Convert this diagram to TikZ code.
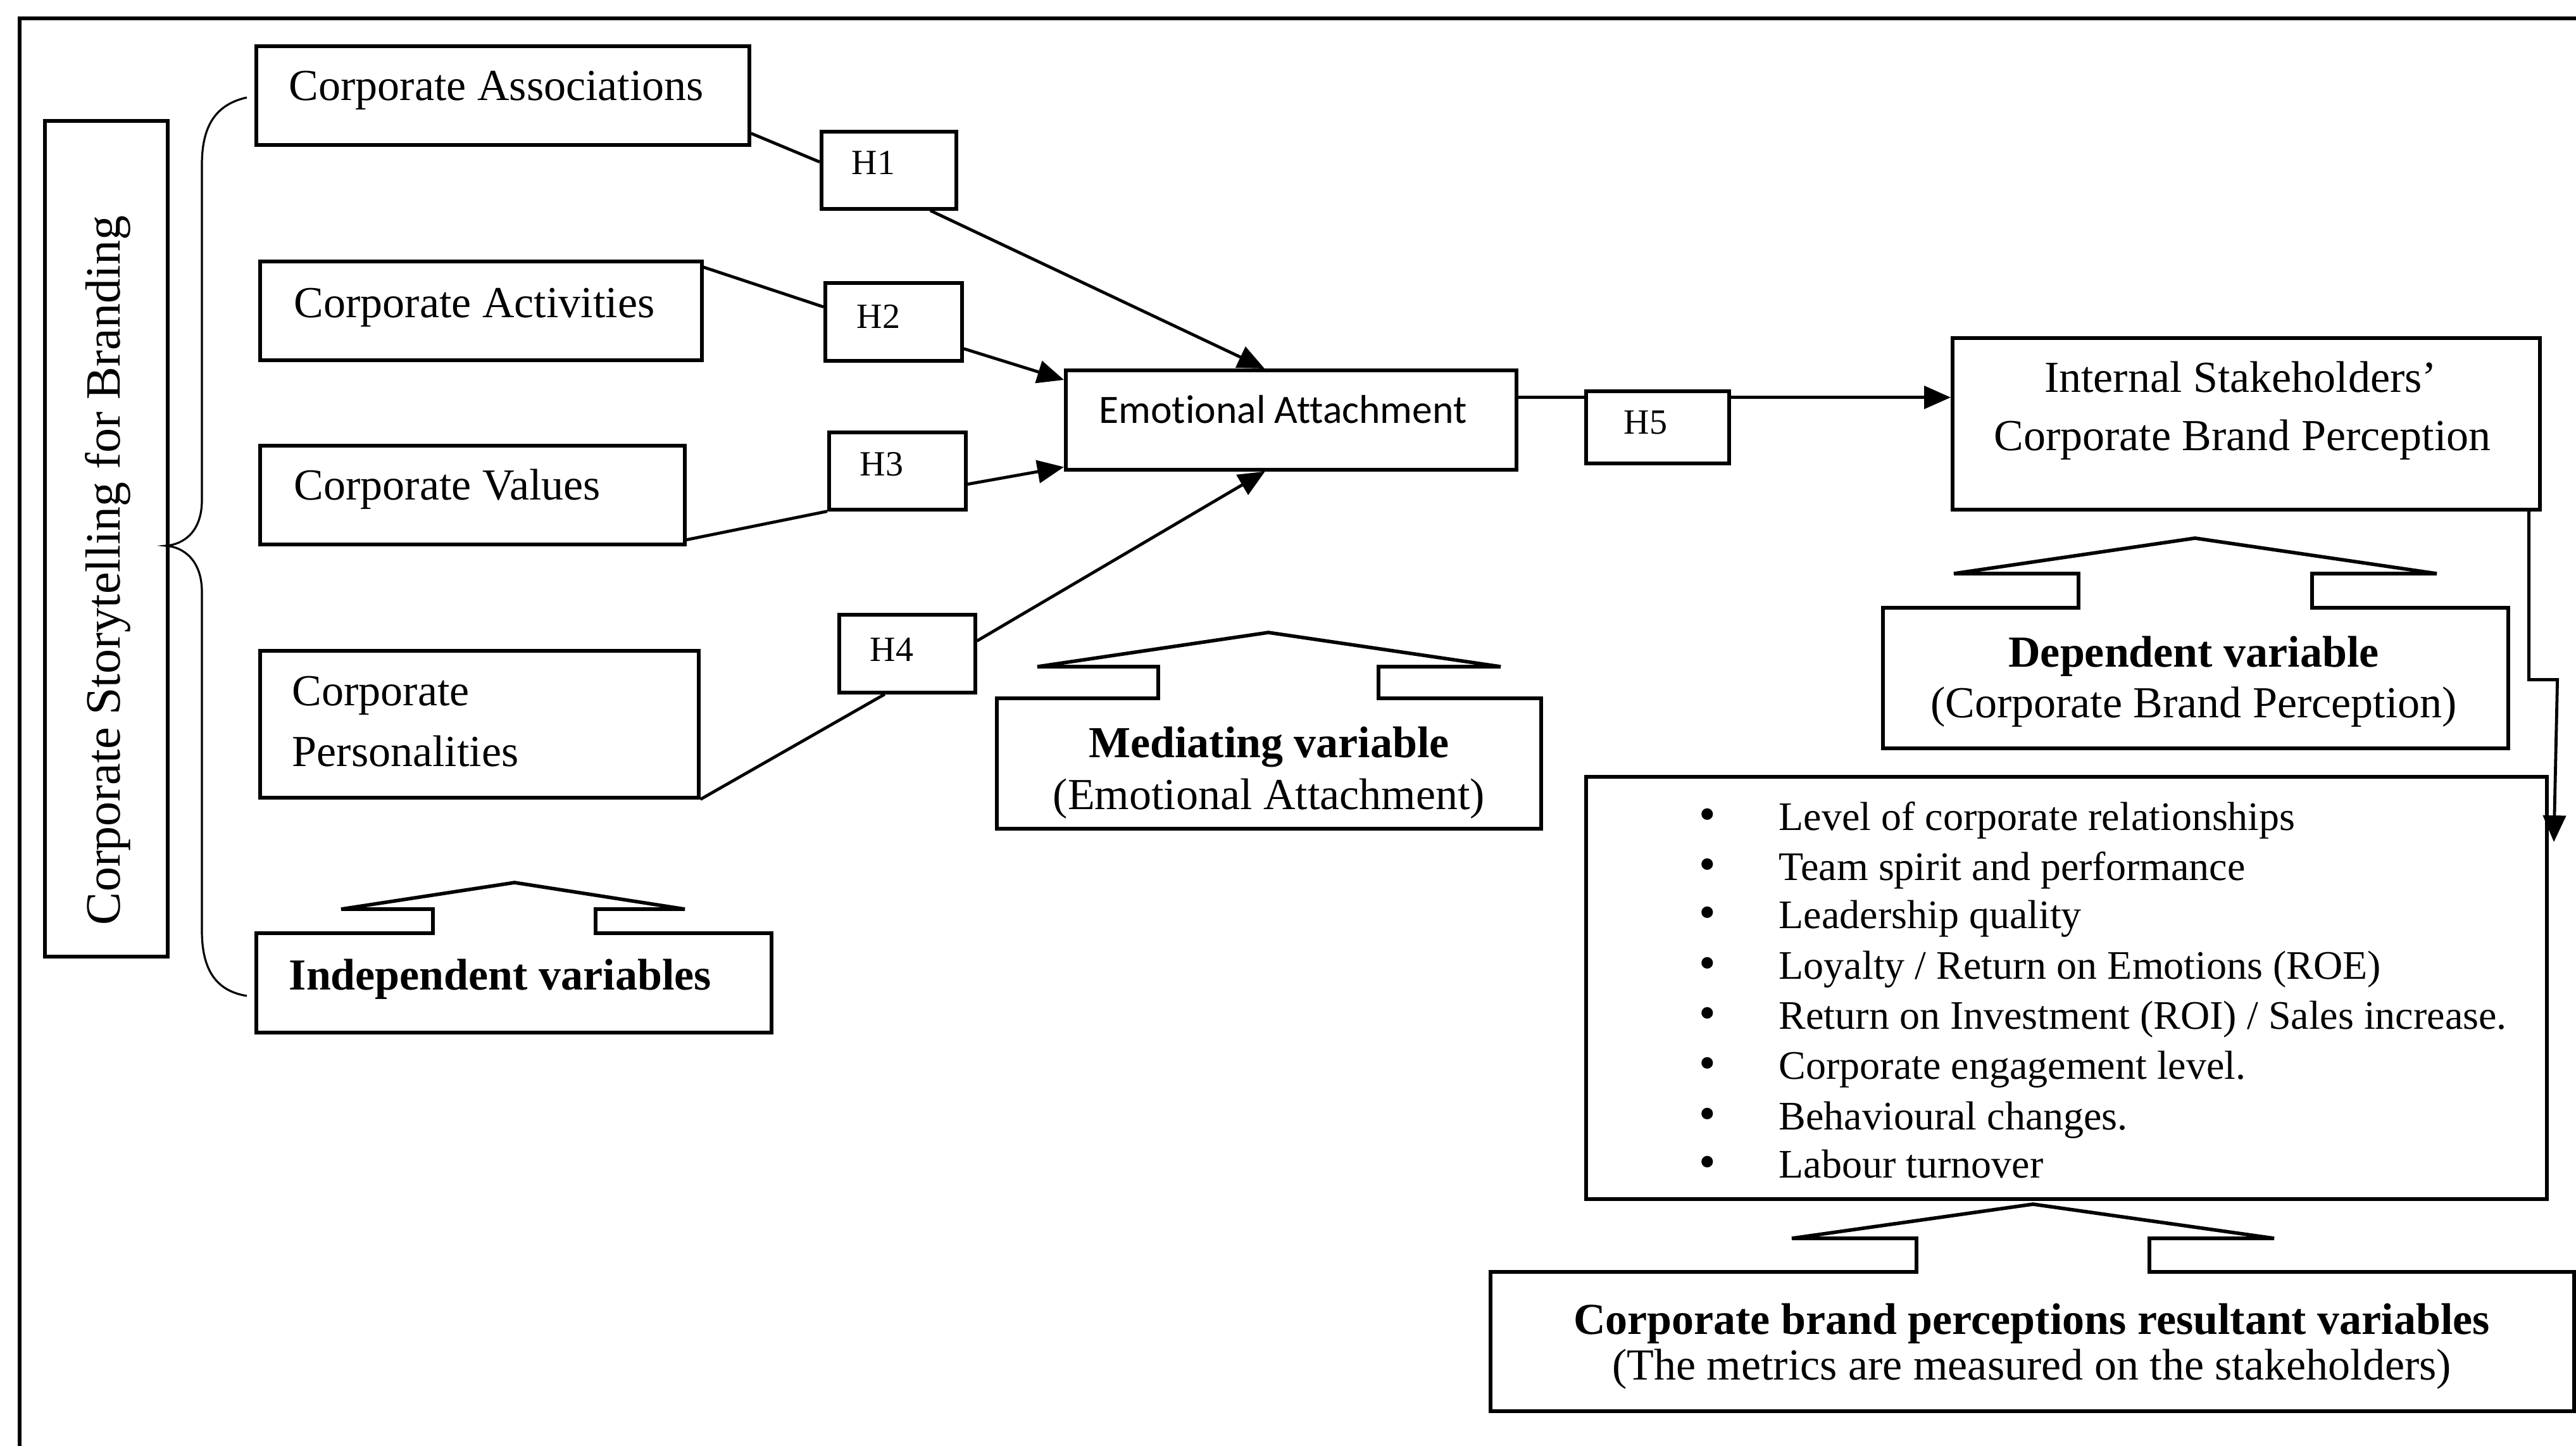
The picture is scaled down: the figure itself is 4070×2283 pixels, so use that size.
\documentclass[tikz,border=0pt]{standalone}
\usepackage{fontspec}
\setmainfont{Liberation Serif}
\newfontfamily\calfont[Ligatures=NoCommon]{Carlito}
\usetikzlibrary{arrows.meta,calc}
\tikzset{
 bx/.style={draw, line width=1.4pt, anchor=north west, inner sep=0pt},
 conn/.style={line width=1.2pt},
 arr/.style={line width=1.2pt, -{Triangle[length=10.5pt,width=9pt]}},
 co/.style={draw, line width=1.4pt, line join=miter},
 t18/.style={font=\fontsize{17.5}{21}\selectfont, inner sep=0pt},
 t18b/.style={font=\fontsize{17.5}{21}\selectfont\bfseries, inner sep=0pt},
 t16/.style={font=\fontsize{16}{19}\selectfont, inner sep=0pt},
 bul/.style={font=\fontsize{19}{21}\selectfont, inner sep=0pt, anchor=base},
 itm/.style={t16, anchor=base west},
 th/.style={font=\fontsize{14}{17}\selectfont, inner sep=0pt, anchor=base west},
}
\begin{document}
\begin{tikzpicture}[x=0.25pt,y=-0.25pt]
\useasboundingbox (0,0) rectangle (4070,2283);
\clip (0,0) rectangle (4070,2283);
\fill[white] (0,0) rectangle (4070,2283);
% outer frame
\draw[line width=1.3pt] (31,29) rectangle (4200,2400);

% vertical title box
\node[bx, minimum width=48.5pt, minimum height=330pt] (cs) at (68,188) {};
\node[t18, rotate=90, font=\fontsize{19.5}{23}\selectfont] (tcs) at (170,901) {Corporate Storytelling for Branding};

% brace
\draw[line width=0.8pt] (390,154) .. controls (340,165) and (319,200) .. (319,260) -- (319,790)
  .. controls (319,840) and (290,860) .. (262,862)
  .. controls (290,864) and (319,885) .. (319,935) -- (319,1470)
  .. controls (319,1530) and (340,1565) .. (390,1573);

% independent variable boxes
\node[bx, minimum width=194.75pt, minimum height=39pt] (ca) at (402,70) {};
\node[t18, anchor=base west] (tca) at (456,158) {Corporate Associations};
\node[bx, minimum width=174.5pt, minimum height=39pt] (cact) at (408,410) {};
\node[t18, anchor=base west] (tcact) at (464,501) {Corporate Activities};
\node[bx, minimum width=167.75pt, minimum height=39pt] (cv) at (408,701) {};
\node[t18, anchor=base west] (tcv) at (464,789) {Corporate Values};
\node[bx, minimum width=173.25pt, minimum height=58pt] (cp) at (408,1025) {};
\node[t18, anchor=base west] (tcp1) at (461,1114) {Corporate};
\node[t18, anchor=base west] (tcp2) at (461,1210) {Personalities};

% hypothesis boxes
\node[bx, minimum width=53.25pt, minimum height=30.5pt] (h1) at (1295,205) {};
\node[th] (th1) at (1345,275) {H1};
\node[bx, minimum width=54pt, minimum height=30.75pt] (h2) at (1301,444) {};
\node[th] (th2) at (1353,518) {H2};
\node[bx, minimum width=54pt, minimum height=30.5pt] (h3) at (1307,680) {};
\node[th] (th3) at (1358,751) {H3};
\node[bx, minimum width=53.75pt, minimum height=30.75pt] (h4) at (1323,968) {};
\node[th] (th4) at (1374,1044) {H4};
\node[bx, minimum width=56.5pt, minimum height=28.5pt] (h5) at (2503,615) {};
\node[th] (th5) at (2565,685) {H5};

% emotional attachment
\node[bx, minimum width=178pt, minimum height=39.25pt] (ea) at (1681,582) {};
\node[inner sep=0pt, anchor=base, font=\calfont\fontsize{15.9}{19}\selectfont] (tea) at (2027,668) {Emotional Attachment};

% internal stakeholders
\node[bx, minimum width=232pt, minimum height=67.75pt] (is) at (3082,531) {};
\node[t18, anchor=base] (tis1) at (3540,619) {Internal Stakeholders’};
\node[t18, anchor=base] (tis2) at (3543,711) {Corporate Brand Perception};

% metrics box
\node[bx, minimum width=379.5pt, minimum height=166.75pt] (mt) at (2503,1224) {};
\node[bul] (mb1) at (2698,1311) {•};
\node[itm] (ml1) at (2810,1311) {Level of corporate relationships};
\node[bul] (mb2) at (2698,1390) {•};
\node[itm] (ml2) at (2810,1390) {Team spirit and performance};
\node[bul] (mb3) at (2698,1466) {•};
\node[itm] (ml3) at (2810,1466) {Leadership quality};
\node[bul] (mb4) at (2698,1546) {•};
\node[itm] (ml4) at (2810,1546) {Loyalty / Return on Emotions (ROE)};
\node[bul] (mb5) at (2698,1625) {•};
\node[itm] (ml5) at (2810,1625) {Return on Investment (ROI) / Sales increase.};
\node[bul] (mb6) at (2698,1704) {•};
\node[itm] (ml6) at (2810,1704) {Corporate engagement level.};
\node[bul] (mb7) at (2698,1784) {•};
\node[itm] (ml7) at (2810,1784) {Behavioural changes.};
\node[bul] (mb8) at (2698,1860) {•};
\node[itm] (ml8) at (2810,1860) {Labour turnover};

% callouts
\draw[co] (405,1474) -- (684,1474) -- (684,1436) -- (539,1436) -- (813,1394) -- (1082,1436) -- (941,1436) -- (941,1474) -- (1219,1474) -- (1219,1631) -- (405,1631) -- cycle;
\node[t18b, anchor=base west] (tind) at (456,1563) {Independent variables};

\draw[co] (1575,1103) -- (1830,1103) -- (1830,1053) -- (1639,1053) -- (2004,999) -- (2371,1053) -- (2178,1053) -- (2178,1103) -- (2435,1103) -- (2435,1309) -- (1575,1309) -- cycle;
\node[t18b, anchor=base] (tmed1) at (2005,1196) {Mediating variable};
\node[t18, anchor=base] (tmed2) at (2005,1278) {(Emotional Attachment)};

\draw[co] (2975,960) -- (3284,960) -- (3284,906) -- (3087,906) -- (3468,850) -- (3850,906) -- (3653,906) -- (3653,960) -- (3963,960) -- (3963,1182) -- (2975,1182) -- cycle;
\node[t18b, anchor=base] (tdep1) at (3466,1053) {Dependent variable};
\node[t18, anchor=base] (tdep2) at (3466,1133) {(Corporate Brand Perception)};

\draw[co] (2355,2009) -- (3028,2009) -- (3028,1956) -- (2831,1956) -- (3212,1902) -- (3593,1956) -- (3396,1956) -- (3396,2009) -- (4067,2009) -- (4067,2229) -- (2355,2229) -- cycle;
\node[t18b, anchor=base] (tres1) at (3210,2107) {Corporate brand perceptions resultant variables};
\node[t18, anchor=base] (tres2) at (3210,2179) {(The metrics are measured on the stakeholders)};

% connectors
\draw[conn] ([yshift=5.25pt]ca.south east) -- ([yshift=3.25pt]h1.west);
\draw[arr] ([xshift=16.4pt]h1.south) -- ([xshift=-10.5pt]ea.north);
\draw[conn] ([yshift=-3pt]cact.north east) -- ([yshift=5.9pt]h2.west);
\draw[arr] ([yshift=-10.6pt]h2.east) -- ([yshift=-4.5pt]ea.north west);
\draw[conn] ([yshift=2.5pt]cv.south east) -- (h3.south west);
\draw[arr] ([yshift=-5.25pt]h3.east) -- ([yshift=1.75pt]ea.south west);
\draw[conn] (cp.south east) -- ([xshift=-8.9pt]h4.south);
\draw[arr] ([yshift=5pt]h4.east) -- ([xshift=-10.25pt]ea.south);
\coordinate (lvl) at ([yshift=8.9pt]ea.east);
\draw[conn] (lvl) -- (lvl -| h5.west);
\draw[arr] (lvl -| h5.east) -- (lvl -| is.west);
\coordinate (mtin) at (4035,1330);
\draw[arr] ([xshift=-5pt]is.south east) -- ++(0,266) -- ++(45,0) -- (mtin);
\end{tikzpicture}
\end{document}
